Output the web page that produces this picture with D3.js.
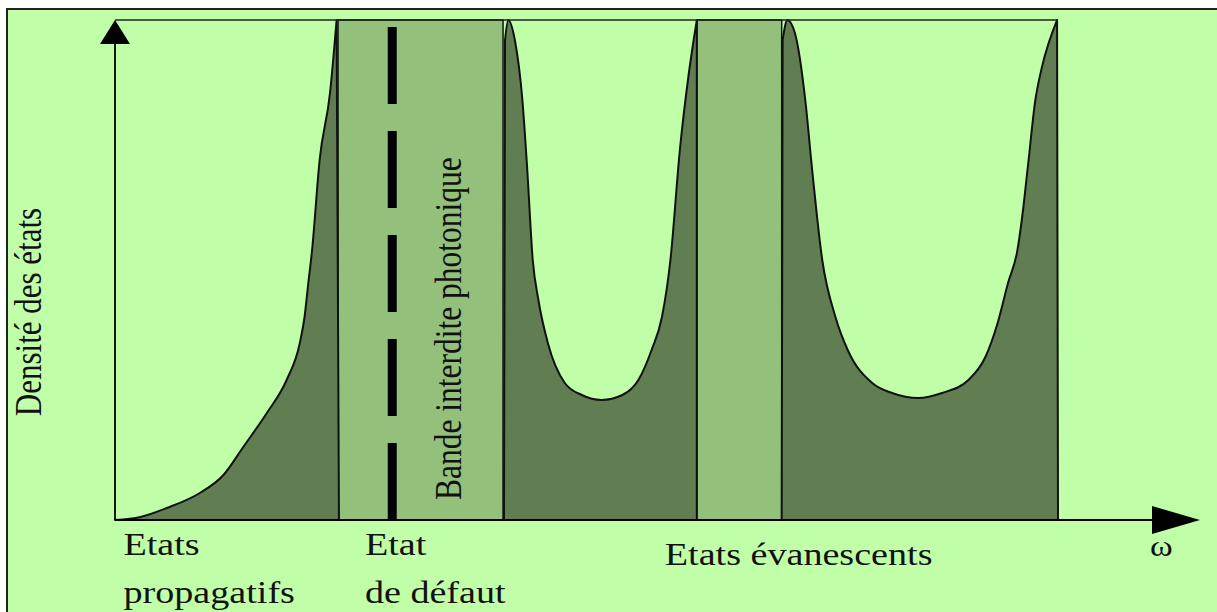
<!DOCTYPE html>
<html>
<head>
<meta charset="utf-8">
<script src="https://cdn.jsdelivr.net/npm/d3@7/dist/d3.min.js"></script>
<style>
  html, body { margin: 0; padding: 0; background: #ffffff; }
  svg { display: block; }
  text { font-family: "Liberation Serif", "Times New Roman", "DejaVu Serif", serif; fill: #111; }
</style>
</head>
<body>
<svg id="chart" width="1217" height="612"></svg>
<script>
// ---- Data (omega in arbitrary units 0..100, density of states 0..1) ----
const propagatingOmega = [0, 2.7, 5.5, 9.0, 11.5, 13.6, 16.1, 18.2, 19.6, 20.1, 20.5, 20.9, 21.7, 22.8, 23.5];
const propagatingDOS   = [0, 0.006, 0.024, 0.054, 0.09, 0.146, 0.214, 0.28, 0.354, 0.406, 0.474, 0.54, 0.72, 0.854, 1.0];
const propagatingEnd   = 23.75;

const evanescent1Omega = [41.36, 41.7, 42.4, 43.2, 43.7, 44.3, 44.9, 45.9, 47.7, 49.5, 51.6, 53.8, 55.5, 56.9, 58.0, 58.9, 59.9, 60.8, 61.7];
const evanescent1DOS   = [0.96, 1.0, 0.96, 0.84, 0.706, 0.52, 0.44, 0.354, 0.274, 0.25, 0.24, 0.25, 0.28, 0.34, 0.406, 0.52, 0.74, 0.886, 1.0];
const evanescent1Start = 41.25;

const evanescent2Omega = [70.8, 71.3, 72.1, 73.2, 73.9, 75.0, 76.4, 77.7, 80.3, 82.4, 85.2, 87.7, 90.5, 92.3, 93.6, 94.7, 95.7, 96.2, 96.8, 97.6, 98.3, 99.9];
const evanescent2DOS   = [0.96, 1.0, 0.974, 0.84, 0.706, 0.52, 0.406, 0.34, 0.274, 0.254, 0.244, 0.254, 0.28, 0.326, 0.394, 0.474, 0.54, 0.606, 0.706, 0.84, 0.906, 1.0];
const evanescent2Start = 70.7;
const evanescent2End   = 100;

const bandGapStart = [23.65, 61.7];
const bandGapEnd   = [41.15, 70.7];
const defectOmega  = 29.4;

const yAxisTitle  = "Densité des états";
const xAxisSymbol = "ω";
const bandLabel   = "Bande interdite photonique";
const regionLabels = [
  { lines: ["Etats", "propagatifs"], at: 0.9 },
  { lines: ["Etat", "de défaut"], at: 26.5 },
  { lines: ["Etats évanescents"], at: 58.3 }
];

// ---- Layout ----
const svg = d3.select("#chart");
const x = d3.scaleLinear().domain([0, 100]).range([115, 1058]);
const y = d3.scaleLinear().domain([0, 1]).range([520, 20]);

const C_BG = "#c0ffa8", C_BAND = "#93c07b", C_DARK = "#607e51";

// background panel
svg.append("rect").attr("x", 7).attr("y", 9).attr("width", 1230).attr("height", 640)
  .attr("fill", C_BG).attr("stroke", "#222").attr("stroke-width", 2);

// band gaps
svg.selectAll("rect.band").data(bandGapStart).join("rect").attr("class", "band")
  .attr("x", (d) => x(d)).attr("y", y(1))
  .attr("width", (d, i) => x(bandGapEnd[i]) - x(d)).attr("height", y(0) - y(1))
  .attr("fill", C_BAND).attr("stroke", "#111").attr("stroke-width", 1.5);

// dark density regions
const lineGen = d3.line().x((d) => x(d[0])).y((d) => y(d[1])).curve(d3.curveMonotoneX);
function regionPath(omega, dos, start, end) {
  const pts = omega.map((w, i) => [w, dos[i]]);
  let p = lineGen(pts);
  p += "L" + x(end) + "," + y(0) + "L" + x(start) + "," + y(0) + "Z";
  return p;
}
const regions = [
  { d: regionPath(propagatingOmega, propagatingDOS, propagatingOmega[0], propagatingEnd) },
  { d: regionPath(evanescent1Omega, evanescent1DOS, evanescent1Start, evanescent1Omega[evanescent1Omega.length - 1]) },
  { d: regionPath(evanescent2Omega, evanescent2DOS, evanescent2Start, evanescent2End) }
];
svg.selectAll("path.dos").data(regions).join("path").attr("class", "dos")
  .attr("d", (d) => d.d).attr("fill", C_DARK).attr("stroke", "#111")
  .attr("stroke-width", 2).attr("stroke-linejoin", "round");

// top frame line
svg.append("line").attr("x1", x(0)).attr("x2", x(100)).attr("y1", y(1)).attr("y2", y(1))
  .attr("stroke", "#222").attr("stroke-width", 1.5);

// defect state: thick dashed line
svg.append("line").attr("x1", x(defectOmega)).attr("x2", x(defectOmega))
  .attr("y1", 27).attr("y2", y(0))
  .attr("stroke", "#000").attr("stroke-width", 9).attr("stroke-dasharray", "77,27");

// axes
const ax = svg.append("g");
ax.append("line").attr("x1", x(0)).attr("x2", x(0)).attr("y1", y(0)).attr("y2", y(1) + 10)
  .attr("stroke", "#000").attr("stroke-width", 1.8);
ax.append("path").attr("d", `M${x(0)},${y(1)} L${x(0) - 15},${y(1) + 24} L${x(0) + 15},${y(1) + 24} Z`).attr("fill", "#000");
ax.append("line").attr("x1", x(0)).attr("x2", 1170).attr("y1", y(0)).attr("y2", y(0))
  .attr("stroke", "#000").attr("stroke-width", 1.8);
ax.append("path").attr("d", `M1200,${y(0)} L1152,${y(0) - 14} L1152,${y(0) + 14} Z`).attr("fill", "#000");

// texts
svg.append("text").attr("transform", "translate(41,312) scale(1.2,1) rotate(-90)")
  .attr("text-anchor", "middle").attr("font-size", 31).text(yAxisTitle);
svg.append("text").attr("transform", `translate(461,500) scale(1.2,1) rotate(-90)`)
  .attr("text-anchor", "start").attr("font-size", 31.5).text(bandLabel);

const labelG = svg.selectAll("g.lab").data(regionLabels).join("g").attr("class", "lab")
  .attr("transform", (d) => `translate(${x(d.at)},0)`);
labelG.each(function (d) {
  const g = d3.select(this);
  d.lines.forEach((t, i) => {
    const base = d.lines.length === 1 ? 565 : 555 + i * 48;
    g.append("text").attr("transform", `translate(0,${base}) scale(1.23,1)`)
      .attr("font-size", 31).text(t);
  });
});
svg.append("text").attr("transform", "translate(1150,556) scale(1.15,1)")
  .attr("font-size", 30).text(xAxisSymbol);
</script>
</body>
</html>
